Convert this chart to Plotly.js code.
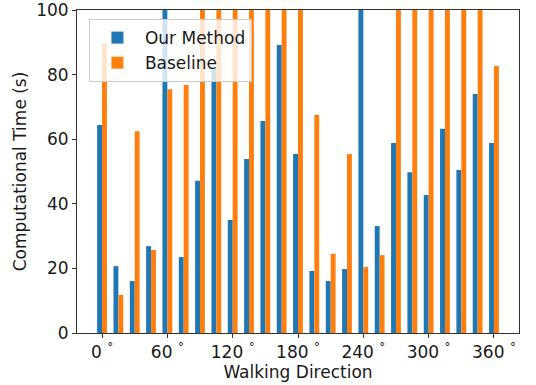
<!DOCTYPE html>
<html>
<head>
<meta charset="utf-8">
<script src="https://cdn.plot.ly/plotly-3.0.1.min.js"></script>
<style>html,body{margin:0;padding:0;background:#fff;}#chart{width:536px;height:385px;}</style>
</head>
<body>
<div id="chart"></div>
<script>
const directions = [0,15,30,45,60,75,90,105,120,135,150,165,180,195,210,225,240,255,270,285,300,315,330,345,360];
const ourMethod = [64.4,20.7,16.1,26.9,100,23.5,47.1,81.7,35.0,53.9,65.6,89.2,55.4,19.2,16.1,19.8,100,33.1,58.8,49.8,42.7,63.2,50.5,74.0,58.8];
const baseline = [89.7,11.8,62.5,25.7,75.5,76.8,100,100,100,100,100,100,100,67.5,24.5,55.4,20.4,24.1,100,100,100,100,100,100,82.7];
const tickVals = [0,60,120,180,240,300,360];
const tickText = ['0 <sup>°</sup>','60 <sup>°</sup>','120 <sup>°</sup>','180 <sup>°</sup>','240 <sup>°</sup>','300 <sup>°</sup>','360 <sup>°</sup>'];
const yTickVals = [0,20,40,60,80,100];

const fam = 'DejaVu Sans';
const col = '#1a1a1a';
const data = [
  {type:'bar', name:'Our Method', x:directions, y:ourMethod, marker:{color:'#1f77b4'}},
  {type:'bar', name:'Baseline', x:directions, y:baseline, marker:{color:'#ff7f0e'}}
];
const layout = {
  width:536, height:385,
  margin:{l:77, r:17, t:10, b:52},
  paper_bgcolor:'#fff', plot_bgcolor:'#fff',
  barmode:'group', bargap:0.4, bargroupgap:0,
  font:{family:fam, size:17, color:col},
  showlegend:true,
  legend:{x:0.027, y:0.972, xanchor:'left', yanchor:'top', itemwidth:45, bgcolor:'rgba(255,255,255,0.8)', bordercolor:'#cccccc', borderwidth:1, font:{family:fam, size:17, color:col}},
  xaxis:{range:[-23,383], tickmode:'array', tickvals:tickVals, ticktext:tickText, ticks:'outside', ticklen:4, tickcolor:'#333', showgrid:false, zeroline:false, showline:true, linecolor:'#333', linewidth:1, mirror:true, ticklabeloverflow:'allow', tickfont:{family:fam, size:17, color:col}, title:{text:'Walking Direction', font:{family:fam, size:17, color:col}, standoff:4}},
  yaxis:{range:[0,100], tickmode:'array', tickvals:yTickVals, ticks:'outside', ticklen:4, tickcolor:'#333', showgrid:false, zeroline:false, showline:true, linecolor:'#333', linewidth:1, mirror:true, ticklabeloverflow:'allow', tickfont:{family:fam, size:17, color:col}, title:{text:'Computational Time (s)', font:{family:fam, size:17, color:col}, standoff:5}}
};
Plotly.newPlot('chart', data, layout, {displayModeBar:false});
</script>
</body>
</html>
